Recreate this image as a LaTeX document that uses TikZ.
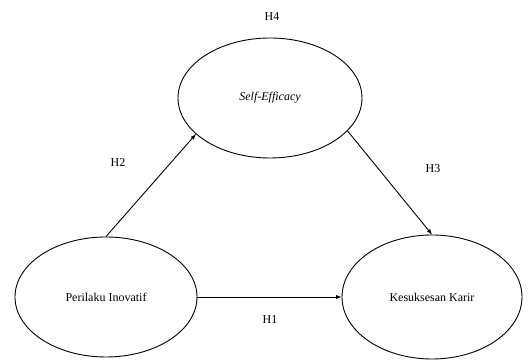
\documentclass[tikz,border=0pt]{standalone}
\usepackage{fontspec}
\setmainfont{Liberation Serif}
\usetikzlibrary{shapes.geometric}
\begin{document}
\begin{tikzpicture}[x=1pt, y=1pt,
    varbox/.style={ellipse, draw, line width=0.9pt, inner sep=0pt, font=\fontsize{12}{14}\selectfont},
    hyplabel/.style={font=\fontsize{12}{14}\selectfont},
    link/.style={-latex, line width=0.9pt}]
\useasboundingbox (0,0) rectangle (528,363);
% Variables
\node[varbox, minimum width=184, minimum height=120] (self) at (270,265) {\textit{Self-Efficacy}};
\node[varbox, minimum width=182, minimum height=120] (peri) at (106,66) {Perilaku Inovatif};
\node[varbox, minimum width=180, minimum height=124] (kes) at (432,66) {Kesuksesan Karir};
% Paths
\draw[link] (peri.north) -- (self.206);
\draw[link] (self.337) -- (kes.north);
\draw[link] (peri.east) -- (kes.west);
% Hypotheses
\node[hyplabel] (h4) at (272,346) {H4};
\node[hyplabel] (h2) at (118,200) {H2};
\node[hyplabel] (h3) at (433,194) {H3};
\node[hyplabel] (h1) at (270,43) {H1};
\end{tikzpicture}
\end{document}
